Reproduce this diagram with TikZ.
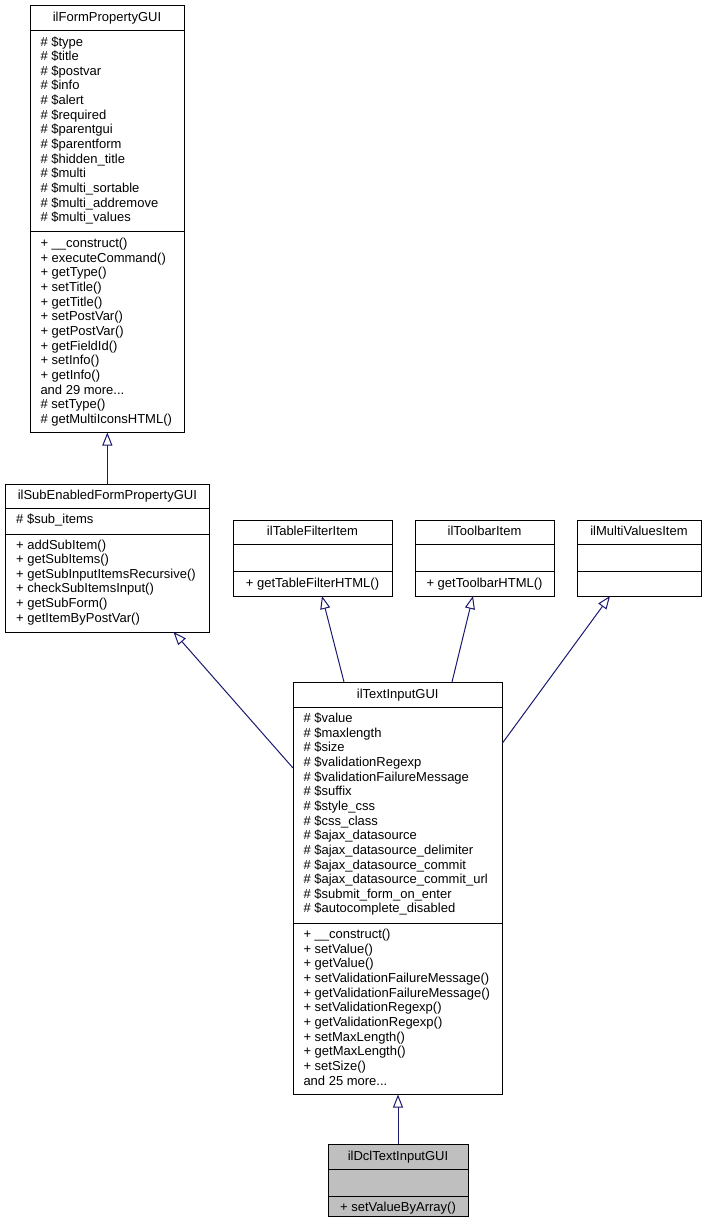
\documentclass[tikz,border=0pt]{standalone}
\usepackage{fontspec}
\setmainfont{Liberation Sans}
\usetikzlibrary{arrows.meta,calc}
\definecolor{edgecol}{HTML}{191970}
\definecolor{dclfill}{HTML}{BFBFBF}
\newcommand{\threedots}{...}
\begin{document}
\begin{tikzpicture}[x=1pt,y=-1pt,
  cls/.style={draw=black, line width=1pt, fill=white, inner sep=0pt, outer sep=0pt, anchor=north west},
  txt/.style={font=\fontsize{13pt}{15pt}\selectfont, inner sep=0pt, outer sep=0pt},
  ltxt/.style={txt, anchor=base west},
  ctxt/.style={txt, anchor=base},
  sepline/.style={draw=black, line width=1pt},
  inh/.style={draw=edgecol, line width=1pt, -{Triangle[length=13pt,width=10pt,fill=white]}}]
\useasboundingbox (0,0) rectangle (706,1227);

% ilFormPropertyGUI
\node[cls, minimum width=154pt, minimum height=427pt] (FP) at (30,5.5) {};
\draw[sepline] ($(FP.north west)+(0,25)$) -- ($(FP.north east)+(0,25)$);
\draw[sepline] ($(FP.north west)+(0,226)$) -- ($(FP.north east)+(0,226)$);
\node[ctxt] (fpt) at ($(FP.north)+(0,15.5)$) {ilFormPropertyGUI};
\foreach [count=\i] \t in {\# \$type,\# \$title,\# \$postvar,\# \$info,\# \$alert,\# \$required,\# \$parentgui,\# \$parentform,\# \$hidden\_title,\# \$multi,\# \$multi\_sortable,\# \$multi\_addremove,\# \$multi\_values}
  \node[ltxt] (fpa\i) at (40.5,{46+(\i-1)*14.65}) {\t};
\foreach [count=\i] \t in {+ \_\_construct(),+ executeCommand(),+ getType(),+ setTitle(),+ getTitle(),+ setPostVar(),+ getPostVar(),+ getFieldId(),+ setInfo(),+ getInfo(),and 29 more\threedots,\# setType(),\# getMultiIconsHTML()}
  \node[ltxt] (fpm\i) at (40.5,{247.5+(\i-1)*14.65}) {\t};

% ilSubEnabledFormPropertyGUI
\node[cls, minimum width=203.3pt, minimum height=148pt] (SE) at (5.7,484) {};
\draw[sepline] ($(SE.north west)+(0,24.3)$) -- ($(SE.north east)+(0,24.3)$);
\draw[sepline] ($(SE.north west)+(0,50.3)$) -- ($(SE.north east)+(0,50.3)$);
\node[ctxt] (set) at ($(SE.north)+(0,15)$) {ilSubEnabledFormPropertyGUI};
\node[ltxt] (sea1) at (16.2,523) {\# \$sub\_items};
\foreach [count=\i] \t in {+ addSubItem(),+ getSubItems(),+ getSubInputItemsRecursive(),+ checkSubItemsInput(),+ getSubForm(),+ getItemByPostVar()}
  \node[ltxt] (sem\i) at (16.2,{549+(\i-1)*14.65}) {\t};

% ilTableFilterItem
\node[cls, minimum width=159pt, minimum height=76pt] (TF) at (233,520) {};
\draw[sepline] ($(TF.north west)+(0,24)$) -- ($(TF.north east)+(0,24)$);
\draw[sepline] ($(TF.north west)+(0,51)$) -- ($(TF.north east)+(0,51)$);
\node[ctxt] (tft) at ($(TF.north)+(0,15.5)$) {ilTableFilterItem};
\node[ctxt] (tfm1) at ($(TF.north)+(0,67)$) {+ getTableFilterHTML()};

% ilToolbarItem
\node[cls, minimum width=139pt, minimum height=76pt] (TB) at (415,520) {};
\draw[sepline] ($(TB.north west)+(0,24)$) -- ($(TB.north east)+(0,24)$);
\draw[sepline] ($(TB.north west)+(0,51)$) -- ($(TB.north east)+(0,51)$);
\node[ctxt] (tbt) at ($(TB.north)+(0,15.5)$) {ilToolbarItem};
\node[ctxt] (tbm1) at ($(TB.north)+(0,67)$) {+ getToolbarHTML()};

% ilMultiValuesItem
\node[cls, minimum width=124pt, minimum height=76pt] (MV) at (577,520) {};
\draw[sepline] ($(MV.north west)+(0,24)$) -- ($(MV.north east)+(0,24)$);
\draw[sepline] ($(MV.north west)+(0,51)$) -- ($(MV.north east)+(0,51)$);
\node[ctxt] (mvt) at ($(MV.north)+(0,15.5)$) {ilMultiValuesItem};

% ilTextInputGUI
\node[cls, minimum width=209.5pt, minimum height=412.5pt] (TI) at (293,682) {};
\draw[sepline] ($(TI.north west)+(0,25)$) -- ($(TI.north east)+(0,25)$);
\draw[sepline] ($(TI.north west)+(0,241)$) -- ($(TI.north east)+(0,241)$);
\node[ctxt] (tit) at ($(TI.north)+(0,16)$) {ilTextInputGUI};
\foreach [count=\i] \t in {\# \$value,\# \$maxlength,\# \$size,\# \$validationRegexp,\# \$validationFailureMessage,\# \$suffix,\# \$style\_css,\# \$css\_class,\# \$ajax\_datasource,\# \$ajax\_datasource\_delimiter,\# \$ajax\_datasource\_commit,\# \$ajax\_datasource\_commit\_url,\# \$submit\_form\_on\_enter,\# \$autocomplete\_disabled}
  \node[ltxt] (tia\i) at (303.5,{722.5+(\i-1)*14.65}) {\t};
\foreach [count=\i] \t in {+ \_\_construct(),+ setValue(),+ getValue(),+ setValidationFailureMessage(),+ getValidationFailureMessage(),+ setValidationRegexp(),+ getValidationRegexp(),+ setMaxLength(),+ getMaxLength(),+ setSize(),and 25 more\threedots}
  \node[ltxt] (tim\i) at (303.5,{938.5+(\i-1)*14.65}) {\t};

% ilDclTextInputGUI
\node[cls, fill=dclfill, minimum width=140pt, minimum height=72pt] (DC) at (328,1144) {};
\draw[sepline] ($(DC.north west)+(0,25)$) -- ($(DC.north east)+(0,25)$);
\draw[sepline] ($(DC.north west)+(0,52)$) -- ($(DC.north east)+(0,52)$);
\node[ctxt] (dct) at ($(DC.north)+(0,16)$) {ilDclTextInputGUI};
\node[ctxt] (dcm1) at ($(DC.north)+(0,67.5)$) {+ setValueByArray()};

% inheritance connectors
\draw[inh] (SE.north) -- (SE.north |- FP.south);
\draw[inh] ([yshift=-86pt]TI.north west) -- ([xshift=-35.5pt]SE.south east);
\draw[inh] ([xshift=51pt]TI.north west) -- ([xshift=9.5pt]TF.south);
\draw[inh] ([xshift=159pt]TI.north west) -- ([xshift=-11.5pt]TB.south);
\draw[inh] ([yshift=-61pt]TI.north east) -- ([xshift=-29pt]MV.south);
\draw[inh] (DC.north) -- (DC.north |- TI.south);
\end{tikzpicture}
\end{document}
